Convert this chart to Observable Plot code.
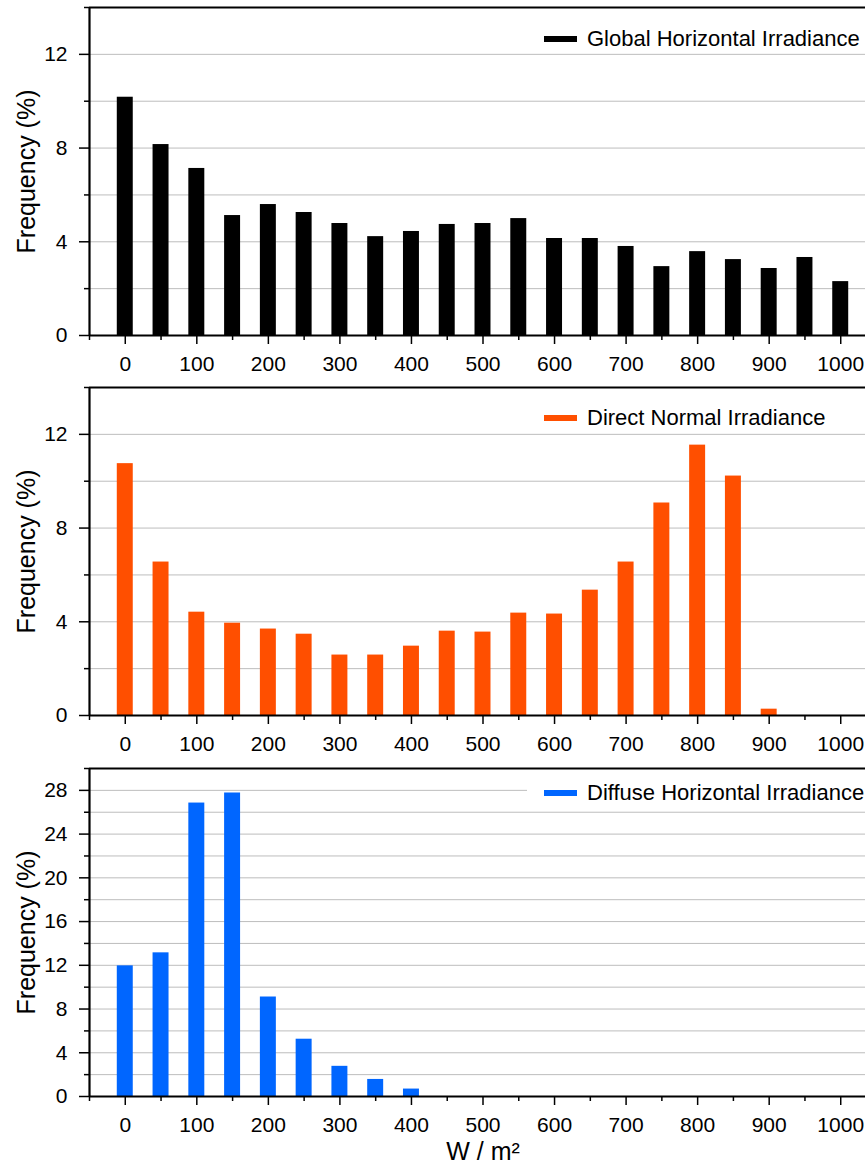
<!DOCTYPE html>
<html>
<head>
<meta charset="utf-8">
<script src="https://cdn.jsdelivr.net/npm/d3@7"></script>
<script src="https://cdn.jsdelivr.net/npm/@observablehq/plot@0.6"></script>
<style>
  html, body { margin: 0; padding: 0; background: #fff; overflow: hidden; }
  .panel { position: relative; width: 865px; overflow: hidden; }
  .panel svg { display: block; max-width: none !important; }
  .legend { position: absolute; left: 527px; padding-left: 17px; padding-right: 10px; height: 22px;
            background: #fff; display: flex; align-items: center;
            font-family: "Liberation Sans", Arial, sans-serif; font-size: 22px; color: #000; white-space: nowrap; }
  .legend .sw { width: 33px; height: 6px; margin-right: 10px; }
</style>
</head>
<body>
<div id="chart"></div>
<script>
// Bin centres (W/m²)
const bins = [0, 50, 100, 150, 200, 250, 300, 350, 400, 450, 500, 550, 600, 650, 700, 750, 800, 850, 900, 950, 1000];

// Frequencies (%)
const ghiValues = [10.17, 8.15, 7.13, 5.12, 5.59, 5.25, 4.78, 4.22, 4.44, 4.74, 4.78, 4.99, 4.14, 4.14, 3.80, 2.94, 3.58, 3.24, 2.86, 3.33, 2.30];
const dniValues = [10.75, 6.55, 4.41, 3.94, 3.69, 3.47, 2.58, 2.58, 2.96, 3.60, 3.56, 4.37, 4.33, 5.35, 6.55, 9.07, 11.54, 10.22, 0.27, 0, 0];
const dhiValues = [11.95, 13.14, 26.84, 27.76, 9.10, 5.24, 2.76, 1.56, 0.68, 0, 0, 0, 0, 0, 0, 0, 0, 0, 0, 0, 0];

const seriesNames = ["Global Horizontal Irradiance", "Direct Normal Irradiance", "Diffuse Horizontal Irradiance"];
const seriesColors = ["#000000", "#ff4f00", "#0066ff"];

// Tick labels
const xMajorTicks = [0, 100, 200, 300, 400, 500, 600, 700, 800, 900, 1000];
const xMinorTicks = [-50, 50, 150, 250, 350, 450, 550, 650, 750, 850, 950, 1050];
const yMajorTicksA = [0, 4, 8, 12];
const yMinorTicksA = [2, 6, 10, 14];
const yGridA = [2, 4, 6, 8, 10, 12];
const yMajorTicksB = [0, 4, 8, 12, 16, 20, 24, 28];
const yMinorTicksB = [2, 6, 10, 14, 18, 22, 26, 30];
const yGridB = [2, 4, 6, 8, 10, 12, 14, 16, 18, 20, 22, 24, 26, 28];

const yLabel = "Frequency (%)";
const xLabel = "W / m²";
const FONT = '"Liberation Sans", Arial, Helvetica, sans-serif';

function panel({values, color, name, yMax, yMajor, yMinor, yGrid, height, marginTop, marginBottom, legendTop, showXLabel}) {
  const data = bins.map((b, i) => ({bin: b, freq: values[i]}));
  const marks = [
    Plot.gridY(yGrid, {stroke: "#bdbdbd", strokeOpacity: 1, strokeWidth: 1}),
    Plot.rect(data, {x1: d => d.bin - 25, x2: d => d.bin + 25, y1: 0, y2: "freq", fill: color, insetLeft: 9.9, insetRight: 9.9}),
    Plot.axisX(xMajorTicks, {tickSize: 9, tickPadding: 12, fontSize: 21, strokeWidth: 1.5, tickFormat: d => String(d), label: null}),
    Plot.axisX(xMinorTicks, {tickSize: 5, strokeWidth: 1.5, tickFormat: () => "", label: null}),
    Plot.axisY(yMajor, {tickSize: 10, tickPadding: 12, fontSize: 21, strokeWidth: 1.5, tickFormat: d => String(d), label: null}),
    Plot.axisY(yMinor, {tickSize: 5, strokeWidth: 1.5, tickFormat: () => "", label: null}),
    Plot.ruleY([0], {stroke: "#000", strokeWidth: 2.2}),
    Plot.ruleY([yMax], {stroke: "#000", strokeWidth: 2.2}),
    Plot.ruleX([-50], {stroke: "#000", strokeWidth: 2.2}),
    Plot.text([yLabel], {frameAnchor: "left", textAnchor: "middle", text: d => d, rotate: -90, dx: -63, fontSize: 25, fill: "#000"})
  ];
  if (showXLabel) {
    marks.push(Plot.text([xLabel], {frameAnchor: "bottom", textAnchor: "middle", text: d => d, lineAnchor: "top", dy: 46, fontSize: 25, fill: "#000"}));
  }
  const svg = Plot.plot({
    width: 876,
    height,
    marginLeft: 89,
    marginRight: 0,
    marginTop,
    marginBottom,
    style: {fontFamily: FONT, fontSize: "21px", color: "#000", background: "#fff", overflow: "visible", maxWidth: "none", height: height + "px"},
    x: {domain: [-50, 1050], label: null},
    y: {domain: [0, yMax], label: null},
    marks
  });
  const wrap = document.createElement("div");
  wrap.className = "panel";
  wrap.style.height = height + "px";
  wrap.appendChild(svg);
  const leg = document.createElement("div");
  leg.className = "legend";
  leg.style.top = legendTop + "px";
  const sw = document.createElement("div");
  sw.className = "sw";
  sw.style.background = color;
  const tx = document.createElement("span");
  tx.textContent = name;
  leg.appendChild(sw);
  leg.appendChild(tx);
  wrap.appendChild(leg);
  return wrap;
}

const root = document.getElementById("chart");
root.appendChild(panel({values: ghiValues, color: seriesColors[0], name: seriesNames[0], yMax: 14,
  yMajor: yMajorTicksA, yMinor: yMinorTicksA, yGrid: yGridA, height: 380, marginTop: 7, marginBottom: 45, legendTop: 27.5}));
root.appendChild(panel({values: dniValues, color: seriesColors[1], name: seriesNames[1], yMax: 14,
  yMajor: yMajorTicksA, yMinor: yMinorTicksA, yGrid: yGridA, height: 380, marginTop: 7, marginBottom: 45, legendTop: 27}));
root.appendChild(panel({values: dhiValues, color: seriesColors[2], name: seriesNames[2], yMax: 30,
  yMajor: yMajorTicksB, yMinor: yMinorTicksB, yGrid: yGridB, height: 404, marginTop: 8, marginBottom: 68, legendTop: 21.7, showXLabel: true}));
</script>
</body>
</html>
